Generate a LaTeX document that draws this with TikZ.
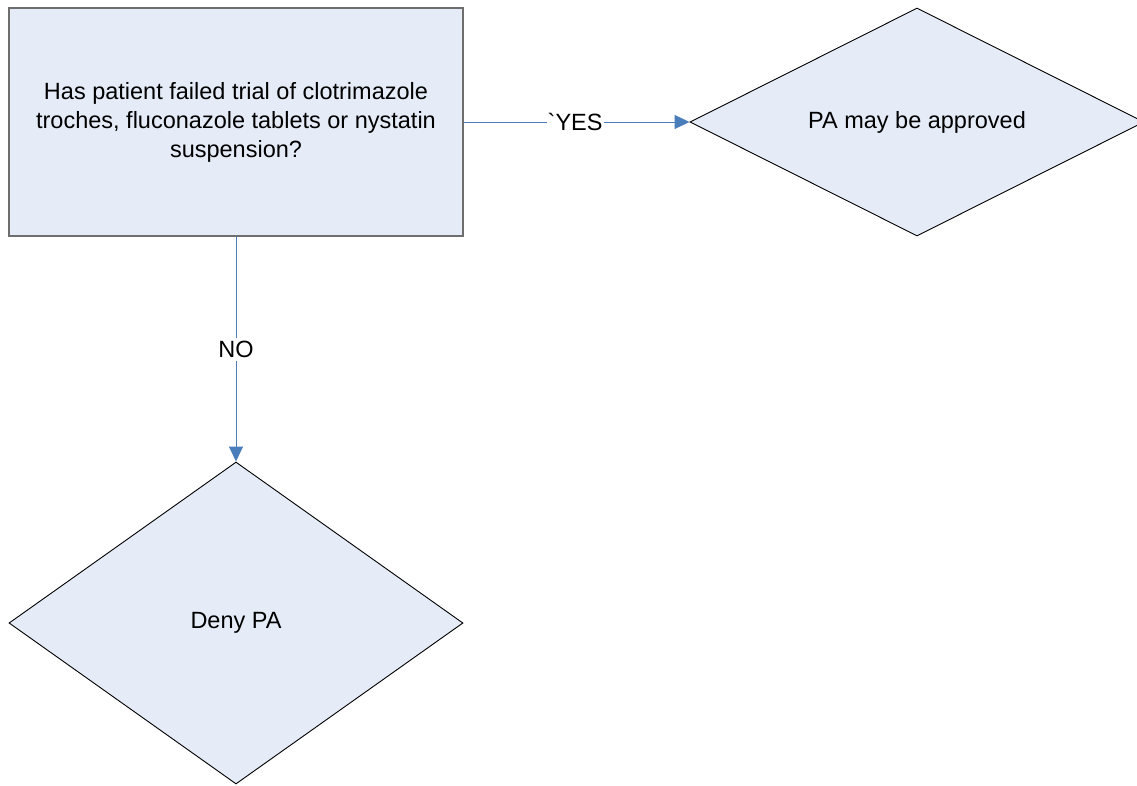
\documentclass[tikz,border=0pt]{standalone}
\usepackage{fontspec}
\setmainfont{Liberation Sans}
\usetikzlibrary{shapes.geometric,arrows.meta}
\definecolor{boxfill}{HTML}{E6ECF7}
\definecolor{boxline}{HTML}{6E6E6E}
\definecolor{linkblue}{HTML}{4A7EBB}
% plain grave accent glyph, bypassing the TeX quote mapping
\newcommand{\gravemark}{\XeTeXglyph\the\XeTeXcharglyph"60\relax}
\begin{document}
\begin{tikzpicture}[x=1pt,y=-1pt,
  every node/.style={font=\fontsize{23.5}{29}\selectfont},
  question/.style={rectangle,draw=boxline,line width=1.6pt,fill=boxfill,
    minimum width=454pt,minimum height=228pt,inner sep=0pt,align=center},
  outcome/.style={diamond,aspect=2,draw=black,line width=0.9pt,fill=boxfill,inner sep=0pt},
  link/.style={draw=linkblue,line width=0.9pt,-{Triangle[length=15pt,width=14pt]}},
  answer/.style={fill=white,inner xsep=1pt,inner ysep=3pt}]
\useasboundingbox (0,0) rectangle (1137,785);
\node[question] (q) at (236,122)
  {Has patient failed trial of clotrimazole\\troches, fluconazole tablets or nystatin\\suspension?};
\node[outcome,minimum width=454pt,minimum height=228pt] (approve) at (917,122) {PA may be approved};
\node[outcome,minimum width=454pt,minimum height=322pt] (deny) at (236,623) {Deny PA};
\draw[link] (q.east) -- node[answer,pos=0.493] (yes) {\gravemark YES} (approve.west);
\draw[link] (q.south) -- node[answer,pos=0.5] (no) {NO} (deny.north);
\end{tikzpicture}
\end{document}
